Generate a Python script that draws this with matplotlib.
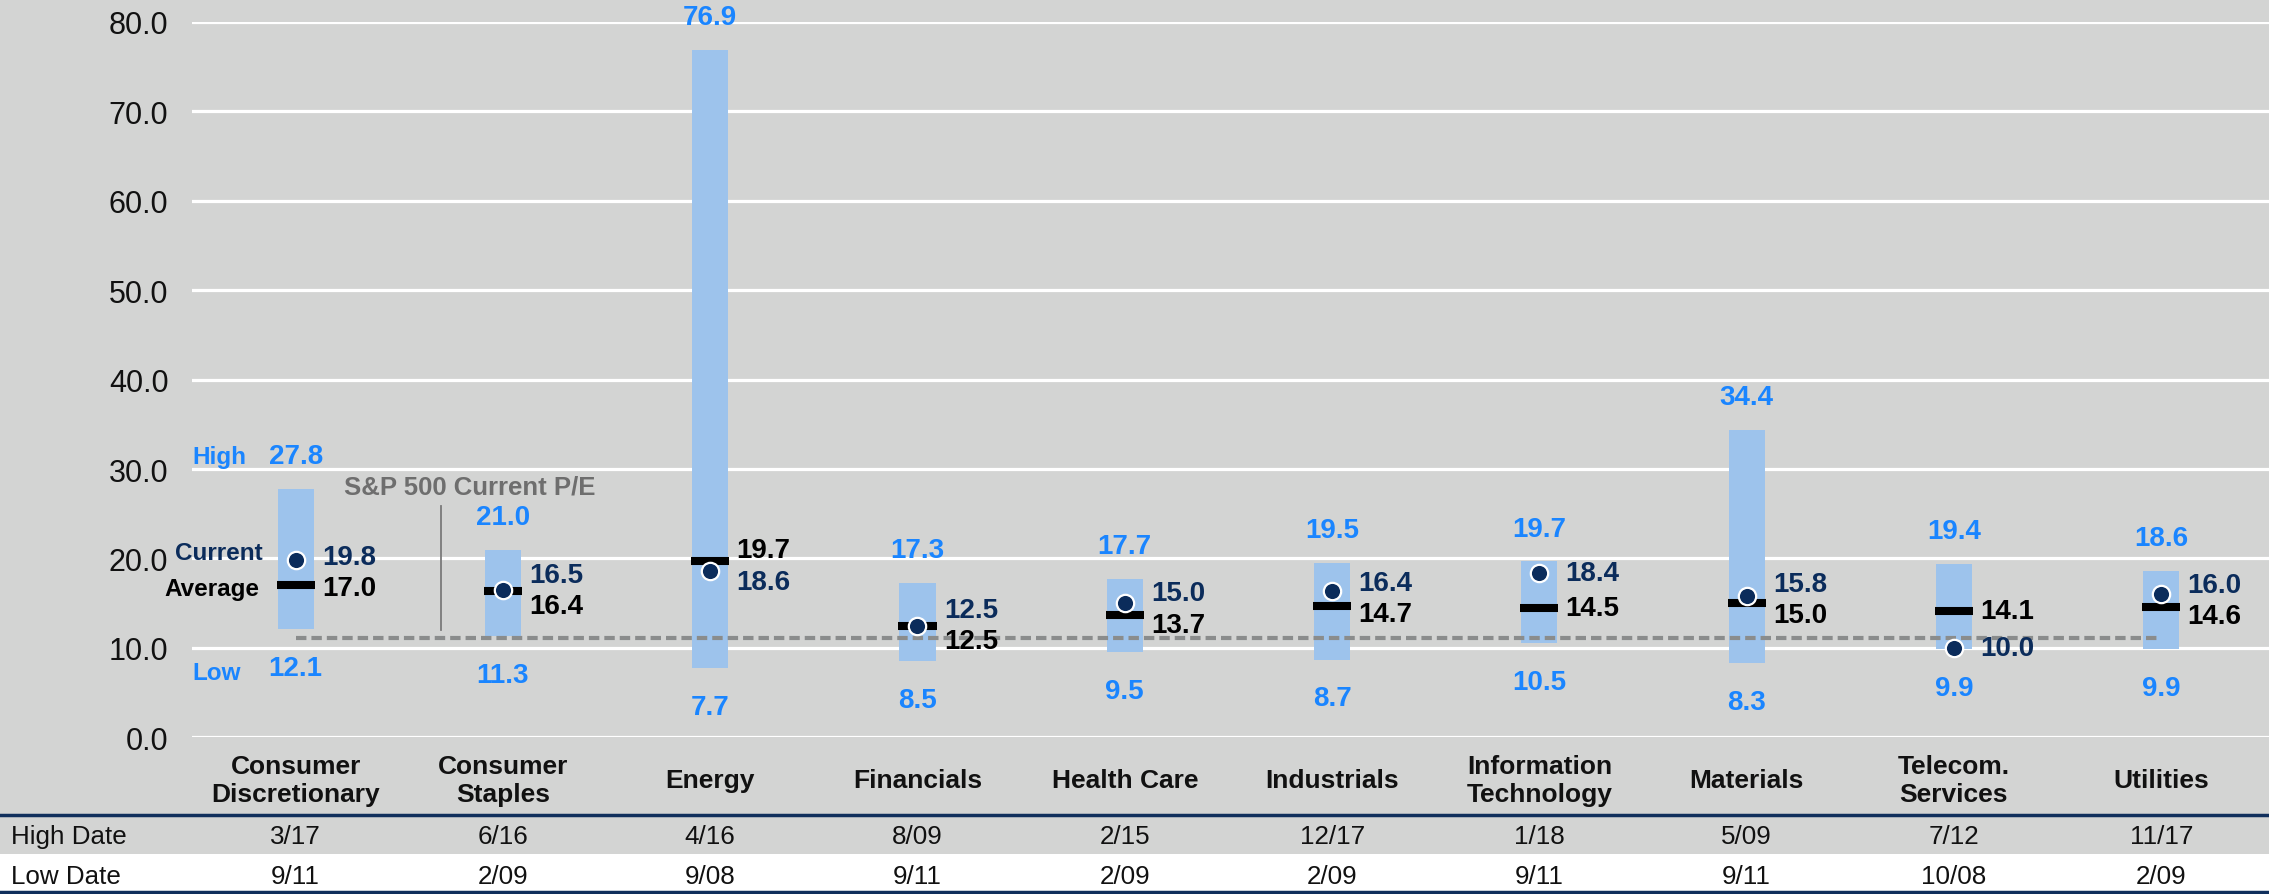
import matplotlib
matplotlib.use("Agg")
from matplotlib import pyplot as plt
from matplotlib.transforms import blended_transform_factory

plt.rcParams['font.family'] = ['Liberation Sans', 'DejaVu Sans']
plt.rcParams['lines.scale_dashes'] = False

# data
sectors = ['Consumer\nDiscretionary', 'Consumer\nStaples', 'Energy', 'Financials', 'Health Care',
           'Industrials', 'Information\nTechnology', 'Materials', 'Telecom.\nServices', 'Utilities']
high = [27.8, 21.0, 76.9, 17.3, 17.7, 19.5, 19.7, 34.4, 19.4, 18.6]
low = [12.1, 11.3, 7.7, 8.5, 9.5, 8.7, 10.5, 8.3, 9.9, 9.9]
current = [19.8, 16.5, 18.6, 12.5, 15.0, 16.4, 18.4, 15.8, 10.0, 16.0]
average = [17.0, 16.4, 19.7, 12.5, 13.7, 14.7, 14.5, 15.0, 14.1, 14.6]
high_dates = ['3/17', '6/16', '4/16', '8/09', '2/15', '12/17', '1/18', '5/09', '7/12', '11/17']
low_dates = ['9/11', '2/09', '9/08', '9/11', '2/09', '2/09', '9/11', '9/11', '10/08', '2/09']
sp500_pe = 11.1
yticks = [0, 10, 20, 30, 40, 50, 60, 70, 80]

BG = '#d3d4d3'
BAR = '#9dc3ec'
BLUE = '#1a85ff'
NAVY = '#0b2c5b'
GRAY = '#6e6e6e'

fig = plt.figure(figsize=(22.69, 8.95), dpi=100, facecolor=BG)
ax = fig.add_axes([192 / 2269, 1 - 738.3 / 895, 1 - 192 / 2269, (738.3 - 23) / 895])
ax.set_facecolor(BG)
x = list(range(len(sectors)))

ax.set_xlim(-0.5, 9.52)
ax.set_ylim(0, 80)
ax.set_yticks(yticks)
ax.set_yticklabels(['%.1f' % v for v in yticks], fontsize=22, color='#111111')
ax.tick_params(axis='y', length=0, pad=17)
ax.set_xticks([])
for s in ax.spines.values():
    s.set_visible(False)
ax.yaxis.grid(True, color='white', linewidth=2.3)
ax.set_axisbelow(True)

# range bars
ax.bar(x, [h - l for h, l in zip(high, low)], bottom=low, width=0.175, color=BAR, zorder=2)

# S&P 500 current P/E line
ax.plot([x[0], x[-1]], [sp500_pe, sp500_pe], color='#8a8c8c', linewidth=3,
        dashes=(7.5, 3.6), zorder=3)

# average markers and current dots
ax.hlines(average, [i - 0.092 for i in x], [i + 0.092 for i in x], color='black',
          linewidth=5.8, zorder=4)
ax.plot(x, current, 'o', markersize=12.5, markerfacecolor=NAVY, markeredgecolor='white',
        markeredgewidth=1.6, linestyle='none', zorder=5)

gap = 3.5
cur_pos, avg_pos = [], []
for i in x:
    c, a = current[i], average[i]
    hi_v, lo_v = max(c, a), min(c, a)
    if hi_v - lo_v < gap:
        mid = (hi_v + lo_v) / 2
        hi_v, lo_v = mid + gap / 2, mid - gap / 2
    if c >= a:
        cur_pos.append(hi_v)
        avg_pos.append(lo_v)
    else:
        cur_pos.append(lo_v)
        avg_pos.append(hi_v)

vfs = 20
for i in x:
    ax.annotate('%.1f' % high[i], (i, high[i]), xytext=(0, 23.5), textcoords='offset points',
                ha='center', va='center', fontsize=vfs, fontweight='bold', color=BLUE,
                annotation_clip=False)
    ax.annotate('%.1f' % low[i], (i, low[i]), xytext=(0, -28), textcoords='offset points',
                ha='center', va='center', fontsize=vfs, fontweight='bold', color=BLUE)
    ax.annotate('%.1f' % current[i], (i, cur_pos[i]), xytext=(19, 0), textcoords='offset points',
                ha='left', va='center', fontsize=vfs, fontweight='bold', color=NAVY)
    ax.annotate('%.1f' % average[i], (i, avg_pos[i]), xytext=(19, 0), textcoords='offset points',
                ha='left', va='center', fontsize=vfs, fontweight='bold', color='black')

# legend-like labels at the first bar
ax.annotate('High', (-0.5, high[0]), xytext=(0, 23.5), textcoords='offset points',
            ha='left', va='center', fontsize=17.5, fontweight='bold', color=BLUE)
ax.annotate('Low', (-0.5, low[0]), xytext=(0, -31), textcoords='offset points',
            ha='left', va='center', fontsize=17.5, fontweight='bold', color=BLUE)
ax.annotate('Current', (0, cur_pos[0]), xytext=(-24, 3), textcoords='offset points',
            ha='right', va='center', fontsize=17.5, fontweight='bold', color=NAVY)
ax.annotate('Average', (0, avg_pos[0]), xytext=(-26, 0), textcoords='offset points',
            ha='right', va='center', fontsize=17.5, fontweight='bold', color='black')

# S&P 500 annotation
ax.plot([0.70, 0.70], [12.0, 25.9], color='#7a7a7a', linewidth=1.3, zorder=3)
ax.text(0.84, 28.1, 'S&P 500 Current P/E', ha='center', va='center', fontsize=18.5,
        fontweight='bold', color=GRAY)

# category labels
trans = blended_transform_factory(ax.transData, fig.transFigure)
for i, name in enumerate(sectors):
    ax.text(i, 1 - 781 / 895, name, transform=trans, ha='center', va='center', fontsize=19,
            fontweight='bold', color='#111111', linespacing=1.2)

# date table
fig.patches.append(plt.Rectangle((0, 1 - 893 / 895), 1, (893 - 855) / 895, transform=fig.transFigure,
                                 facecolor='white', edgecolor='none', zorder=-1))
for yy in (816, 893):
    fig.add_artist(plt.Line2D([0, 1], [1 - yy / 895] * 2, transform=fig.transFigure,
                              color='#102f5c', linewidth=2.5))
tfs = 18.7
fig.text(11 / 2269, 1 - 837 / 895, 'High Date', ha='left', va='center', fontsize=tfs, color='#111111')
fig.text(11 / 2269, 1 - 877 / 895, 'Low Date', ha='left', va='center', fontsize=tfs, color='#111111')
for i in x:
    ax.text(i, 1 - 837 / 895, high_dates[i], transform=trans, ha='center', va='center',
            fontsize=tfs, color='#111111')
    ax.text(i, 1 - 877 / 895, low_dates[i], transform=trans, ha='center', va='center',
            fontsize=tfs, color='#111111')

fig.savefig('out.png', dpi=100, facecolor=BG)
